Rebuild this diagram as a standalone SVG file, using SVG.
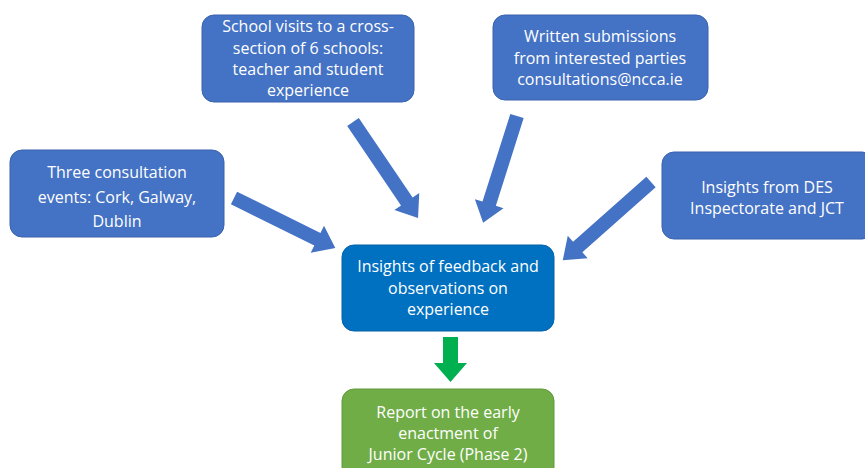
<svg xmlns="http://www.w3.org/2000/svg" width="865" height="468" viewBox="0 0 865 468">
<style>
.box{fill:#4472C4;stroke:#3A63AE;stroke-width:1}
.center{fill:#0070C0;stroke:#0062A8;stroke-width:1}
.green{fill:#70AD47;stroke:#5F9A3A;stroke-width:1}
.t{font-family:"Open Sans","Liberation Sans",sans-serif;font-size:16px;fill:#FFFFFF;text-anchor:middle}
.arr{fill:#4472C4}
.garr{fill:#00B050}
</style>
<rect width="865" height="468" fill="#FFFFFF"/>
<g id="connectors">
<path class="arr" transform="translate(234,198) rotate(26.3)" d="M0,-7 L93,-7 L93,-15 L113,0 L93,15 L93,7 L0,7 Z"/>
<path class="arr" transform="translate(353,122) rotate(55.9)" d="M0,-7 L96,-7 L96,-15 L116,0 L96,15 L96,7 L0,7 Z"/>
<path class="arr" transform="translate(517,116) rotate(107.6)" d="M0,-7 L92,-7 L92,-15 L112,0 L92,15 L92,7 L0,7 Z"/>
<path class="arr" transform="translate(651,182) rotate(138.4)" d="M0,-7 L98,-7 L98,-15 L118,0 L98,15 L98,7 L0,7 Z"/>
<path class="garr" d="M443,337 L458,337 L458,363 L467,363 L450.5,382 L434,363 L443,363 Z"/>
</g>
<g id="n-events">
<rect class="box" x="10" y="150" width="214" height="87" rx="12"/>
<text class="t" x="117" y="178">Three consultation</text>
<text class="t" x="117" y="203">events: Cork, Galway,</text>
<text class="t" x="117" y="227">Dublin</text>
</g>
<g id="n-visits">
<rect class="box" x="202" y="15" width="212" height="87" rx="12"/>
<text class="t" x="308" y="32">School visits to a cross-</text>
<text class="t" x="308" y="53.5">section of 6 schools:</text>
<text class="t" x="308" y="75">teacher and student</text>
<text class="t" x="308" y="96">experience</text>
</g>
<g id="n-written">
<rect class="box" x="493" y="15" width="215" height="85" rx="12"/>
<text class="t" x="600" y="42">Written submissions</text>
<text class="t" x="600" y="63.5">from interested parties</text>
<text class="t" x="600" y="85">consultations@ncca.ie</text>
</g>
<g id="n-des">
<rect class="box" x="662" y="152" width="212" height="87" rx="12"/>
<text class="t" x="767" y="193">Insights from DES</text>
<text class="t" x="767" y="214">Inspectorate and JCT</text>
</g>
<g id="n-center">
<rect class="center" x="342" y="245" width="212" height="86" rx="12"/>
<text class="t" x="448" y="272">Insights of feedback and</text>
<text class="t" x="448" y="293.5">observations on</text>
<text class="t" x="448" y="315">experience</text>
</g>
<g id="n-report">
<rect class="green" x="342" y="389" width="212" height="90" rx="12"/>
<text class="t" x="448" y="418">Report on the early</text>
<text class="t" x="448" y="439">enactment of</text>
<text class="t" x="448" y="460">Junior Cycle (Phase 2)</text>
</g>
</svg>
